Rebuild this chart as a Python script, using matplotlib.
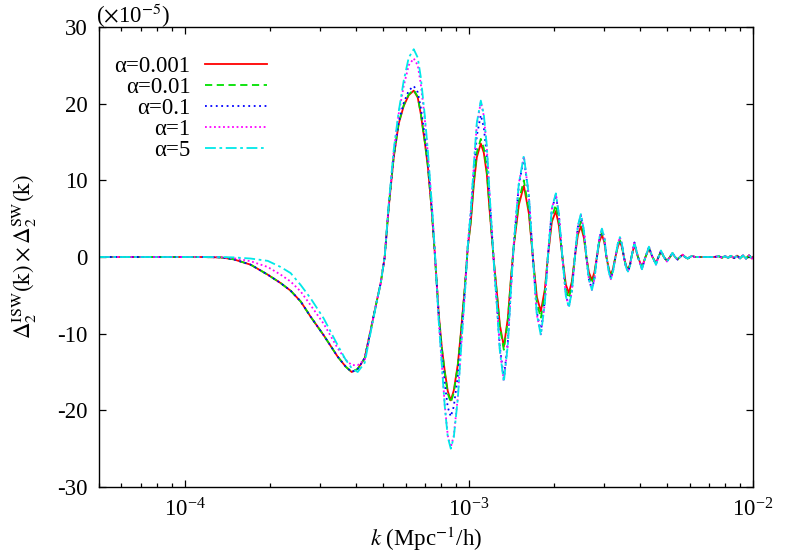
import numpy as np
import matplotlib
matplotlib.use("Agg")
import matplotlib.pyplot as plt

plt.rcParams['font.family'] = ['Liberation Serif', 'DejaVu Serif']
plt.rcParams['mathtext.fontset'] = 'stix'
plt.rcParams['axes.unicode_minus'] = False
fs = 16.5
plt.rcParams['font.size'] = fs

#------------------------------------------------------------------------------
# Data (values in units of 1e-5)
#------------------------------------------------------------------------------
k = [5.0e-5, 7.59e-5, 1.138e-4, 1.339e-4, 1.488e-4, 1.708e-4, 1.961e-4, 2.178e-4, 2.362e-4, 2.562e-4,
     2.778e-4, 3.086e-4, 3.457e-4, 3.689e-4, 3.873e-4, 4.066e-4, 4.303e-4, 4.517e-4, 4.743e-4, 4.899e-4,
     5.060e-4, 5.228e-4, 5.444e-4, 5.669e-4, 5.903e-4, 6.147e-4, 6.402e-4, 6.613e-4, 6.776e-4, 7.000e-4,
     7.172e-4, 7.409e-4, 7.591e-4, 7.842e-4, 8.033e-4, 8.232e-4, 8.435e-4, 8.643e-4, 8.856e-4, 9.149e-4,
     9.373e-4, 9.682e-4, 9.920e-4, 1.0163e-3, 1.0414e-3, 1.0670e-3, 1.1022e-3, 1.1293e-3, 1.1572e-3, 1.1856e-3,
     1.2246e-3, 1.2548e-3, 1.2857e-3, 1.3281e-3, 1.3718e-3, 1.4057e-3, 1.4405e-3, 1.5000e-3, 1.5620e-3, 1.6266e-3,
     1.6802e-3, 1.7354e-3, 1.7926e-3, 1.8517e-3, 1.8974e-3, 1.9600e-3, 2.0244e-3, 2.0744e-3, 2.1340e-3, 2.1953e-3,
     2.2495e-3, 2.3050e-3, 2.3617e-3, 2.4199e-3, 2.4796e-3, 2.5405e-3, 2.5925e-3, 2.6456e-3, 2.7109e-3, 2.7664e-3,
     2.8231e-3, 2.8809e-3, 2.9398e-3, 3.0000e-3, 3.0495e-3, 3.1119e-3, 3.1623e-3, 3.2137e-3, 3.2796e-3, 3.3468e-3,
     3.4019e-3, 3.4573e-3, 3.5142e-3, 3.5715e-3, 3.6303e-3, 3.6894e-3, 3.7346e-3, 3.8263e-3, 3.9370e-3, 4.0666e-3,
     4.1836e-3, 4.3039e-3, 4.4277e-3, 4.5554e-3, 4.6486e-3, 4.7438e-3, 4.8600e-3, 4.9800e-3, 5.1022e-3, 5.2067e-3,
     5.3141e-3, 5.4317e-3, 5.5340e-3, 5.6564e-3, 5.7629e-3, 5.8904e-3, 6.0014e-3, 6.0992e-3, 6.2497e-3, 6.5610e-3,
     7.2894e-3, 7.5911e-3, 7.7775e-3, 7.9695e-3, 8.1662e-3, 8.3658e-3, 8.5725e-3, 8.7841e-3, 9.0000e-3, 9.2222e-3,
     9.4498e-3, 9.6807e-3, 9.9196e-3, 1.0e-2]

d_a0001 = [0, 0, 0, -0.05, -0.3, -1.0, -2.3, -3.4, -4.4, -5.8,
           -7.8, -10.2, -13.0, -14.3, -15.0, -14.6, -13.2, -9.5, -5.8, -3.4,
           0.0, 6.5, 13.0, 17.4, 19.7, 21.1, 21.7, 20.8, 18.7, 15.0,
           11.9, 6.0, 0.5, -7.5, -11.7, -14.9, -17.5, -18.7, -17.4, -14.0,
           -10.0, -4.0, 1.3, 4.5, 9.5, 13.0, 14.8, 13.6, 10.8, 5.8,
           -0.5, -4.5, -8.8, -11.7, -8.0, -3.0, 1.5, 6.8, 9.3, 5.7,
           0, -5.2, -7.1, -4.2, 0, 4.6, 6.0, 4.1, 0, -3.6,
           -4.7, -3.2, 0, 2.9, 4.0, 2.5, 0, -2.0, -3.0, -2.0,
           0, 2.0, 2.9, 1.9, 0, -1.6, -2.3, -1.6, 0, 1.4,
           2.0, 1.3, 0, -1.1, -1.6, -1.0, 0, 1.6, 0, -1.35,
           0, 1.1, 0, -0.8, 0, 0.7, 0, -0.5, 0, 0.5,
           0, -0.3, 0, 0.3, 0, -0.2, 0, 0.15, 0, 0,
           0, 0.1, -0.1, 0.12, -0.12, 0.15, -0.15, 0.18, -0.18, 0.2,
           -0.2, 0.22, -0.2, 0]

d_a001 = [0, 0, 0, -0.05, -0.3, -1.0, -2.3, -3.4, -4.4, -5.8,
          -7.8, -10.2, -13.0, -14.3, -15.0, -14.6, -13.2, -9.5, -5.8, -3.4,
          0.0, 6.6, 13.1, 17.5, 19.8, 21.2, 21.8, 20.9, 18.8, 15.1,
          12.0, 6.0, 0.5, -7.5, -11.8, -15.1, -17.8, -19.0, -17.7, -14.2,
          -10.1, -4.0, 1.3, 4.7, 9.9, 13.6, 15.4, 14.2, 11.3, 6.0,
          -0.5, -4.7, -9.1, -12.1, -8.3, -3.1, 1.6, 7.3, 10.0, 6.1,
          0, -5.9, -8.0, -4.7, 0, 5.2, 6.8, 4.6, 0, -4.2,
          -5.4, -3.7, 0, 3.4, 4.6, 2.9, 0, -2.4, -3.5, -2.4,
          0, 2.2, 3.2, 2.1, 0, -1.7, -2.5, -1.7, 0, 1.5,
          2.2, 1.4, 0, -1.2, -1.7, -1.1, 0, 1.7, 0, -1.4,
          0, 1.15, 0, -0.85, 0, 0.75, 0, -0.55, 0, 0.5,
          0, -0.3, 0, 0.3, 0, -0.2, 0, 0.15, 0, 0,
          0, 0.1, -0.1, 0.12, -0.12, 0.15, -0.15, 0.18, -0.18, 0.2,
          -0.2, 0.22, -0.2, 0]

d_a01 = [0, 0, 0, -0.05, -0.3, -1.0, -2.3, -3.4, -4.4, -5.8,
         -7.8, -10.2, -13.0, -14.3, -15.0, -14.6, -13.2, -9.5, -5.8, -3.4,
         0.0, 6.6, 13.2, 17.6, 20.1, 21.7, 22.3, 21.5, 19.5, 15.8,
         12.5, 6.3, 0.6, -7.8, -12.5, -16.5, -19.6, -20.8, -19.5, -15.5,
         -11.0, -4.4, 1.4, 5.6, 11.0, 15.8, 18.5, 16.9, 13.2, 7.2,
         -0.6, -6.0, -11.7, -15.8, -11.1, -4.3, 1.7, 9.4, 12.9, 7.9,
         0, -7.2, -9.7, -5.7, 0, 6.2, 8.1, 5.5, 0, -4.9,
         -6.4, -4.4, 0, 3.9, 5.4, 3.4, 0, -2.9, -4.2, -2.9,
         0, 2.5, 3.6, 2.4, 0, -1.9, -2.8, -1.9, 0, 1.7,
         2.5, 1.6, 0, -1.3, -1.9, -1.2, 0, 1.9, 0, -1.55,
         0, 1.3, 0, -0.95, 0, 0.8, 0, -0.6, 0, 0.55,
         0, -0.35, 0, 0.3, 0, -0.2, 0, 0.15, 0, 0,
         0, 0.1, -0.1, 0.12, -0.12, 0.15, -0.15, 0.18, -0.18, 0.2,
         -0.2, 0.22, -0.2, 0]

d_a1 = [0, 0, 0, -0.03, -0.15, -0.55, -1.3, -2.3, -3.2, -4.5,
        -6.3, -8.7, -11.9, -13.4, -14.1, -14.1, -13.4, -9.6, -5.8, -3.4,
        0.0, 6.8, 13.8, 18.7, 22.3, 25.0, 25.9, 25.0, 22.6, 18.0,
        13.6, 6.8, 0.9, -8.4, -13.8, -19.3, -23.3, -24.8, -23.3, -18.3,
        -12.3, -4.9, 1.5, 6.0, 11.8, 17.2, 20.2, 18.4, 14.3, 7.7,
        -0.7, -6.1, -12.0, -16.2, -11.4, -4.4, 1.8, 9.6, 13.1, 8.0,
        0, -7.5, -10.1, -6.0, 0, 6.3, 8.2, 5.6, 0, -5.0,
        -6.5, -4.4, 0, 4.0, 5.5, 3.5, 0, -2.9, -4.3, -2.9,
        0, 2.5, 3.7, 2.4, 0, -2.0, -2.9, -2.0, 0, 1.8,
        2.6, 1.7, 0, -1.3, -1.9, -1.2, 0, 1.9, 0, -1.6,
        0, 1.35, 0, -1.0, 0, 0.85, 0, -0.6, 0, 0.55,
        0, -0.35, 0, 0.3, 0, -0.2, 0, 0.15, 0, 0,
        0, 0.1, -0.1, 0.12, -0.12, 0.15, -0.15, 0.18, -0.18, 0.2,
        -0.2, 0.22, -0.2, 0]

d_a5 = [0, 0, 0, 0.0, -0.05, -0.2, -0.5, -1.3, -2.1, -3.65,
        -5.4, -8.0, -11.5, -13.4, -14.5, -15.0, -13.8, -9.8, -5.9, -3.4,
        0.0, 6.9, 14.0, 19.0, 23.0, 26.0, 27.1, 26.0, 23.5, 18.5,
        14.0, 7.0, 1.0, -8.5, -14.0, -19.5, -23.5, -25.0, -23.5, -18.5,
        -12.5, -5.0, 1.5, 6.0, 12.0, 17.5, 20.4, 18.6, 14.5, 7.8,
        -0.7, -6.2, -12.2, -16.3, -11.5, -4.5, 1.8, 9.6, 13.2, 8.1,
        0, -7.5, -10.2, -6.0, 0, 6.4, 8.3, 5.6, 0, -5.1,
        -6.6, -4.5, 0, 4.1, 5.6, 3.5, 0, -2.9, -4.3, -2.9,
        0, 2.5, 3.7, 2.5, 0, -2.0, -2.9, -2.0, 0, 1.8,
        2.6, 1.7, 0, -1.3, -1.9, -1.2, 0, 1.9, 0, -1.6,
        0, 1.35, 0, -1.0, 0, 0.85, 0, -0.6, 0, 0.55,
        0, -0.35, 0, 0.3, 0, -0.2, 0, 0.15, 0, 0,
        0, 0.1, -0.1, 0.12, -0.12, 0.15, -0.15, 0.18, -0.18, 0.2,
        -0.2, 0.22, -0.2, 0]

labels = ['α=0.001', 'α=0.01', 'α=0.1', 'α=1', 'α=5']
series = [d_a0001, d_a001, d_a01, d_a1, d_a5]
colors = ['#ff0000', '#00e000', '#0000ff', '#ff00ff', '#00e8e8']
styles = ['-', (0, (4, 2.5)), (0, (1, 2)), (0, (1, 1.5)), (0, (6, 2, 1.5, 2))]

#------------------------------------------------------------------------------
# Plot
#------------------------------------------------------------------------------
fig = plt.figure(figsize=(7.9, 5.53), dpi=100)
ax = fig.add_axes([0.1253, 0.1193, 0.8279, 0.8319])

for d, lab, col, ls in zip(series, labels, colors, styles):
    ax.plot(k, d, color=col, ls=ls, lw=1.3, label=lab)

ax.set_xscale('log')
ax.set_xlim(5e-5, 1e-2)
ax.set_ylim(-30, 30)
ax.set_yticks([-30, -20, -10, 0, 10, 20, 30])
ax.tick_params(which='both', direction='in', top=True, right=True, labelsize=fs)
ax.tick_params(which='major', length=5, width=0.9, pad=8)
ax.tick_params(which='minor', length=3, width=0.9)
ax.tick_params(axis='y', which='minor', left=False, right=False)
for s in ax.spines.values():
    s.set_linewidth(1.0)

ax.set_xlabel(r'$k$ (Mpc$^{-1}$/h)', fontsize=fs)
ax.xaxis.set_label_coords(0.5, -0.083)
ax.set_ylabel(r'$\Delta_2^{\mathrm{ISW}}\mathrm{(k)}\times\Delta_2^{\mathrm{SW}}\mathrm{(k)}$',
              fontsize=fs)
ax.yaxis.set_label_coords(-0.092, 0.5)
fig.text(0.122, 1 - 1 / 553., r'($\times$10$^{-5}$)', fontsize=fs, va='top', ha='left')

ax.legend(loc='upper right', bbox_to_anchor=(0.257, 0.937), frameon=False, markerfirst=False,
          handlelength=2.7, handletextpad=0.65, labelspacing=0.0, borderpad=0, borderaxespad=0,
          fontsize=fs)

fig.savefig('out.png', dpi=100)
